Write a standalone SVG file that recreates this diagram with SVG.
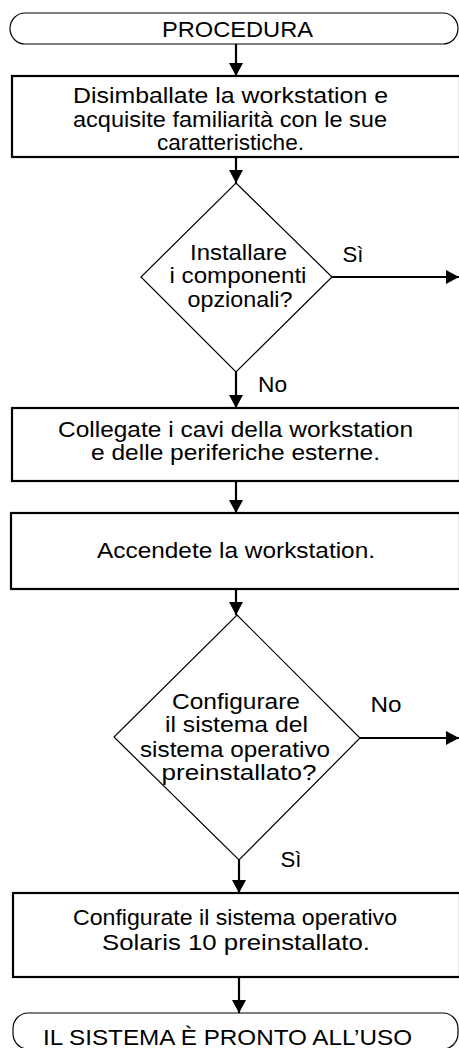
<svg xmlns="http://www.w3.org/2000/svg" width="459" height="1048" viewBox="0 0 459 1048">
<style>
text{font-family:"Liberation Sans",Arial,Helvetica,sans-serif;font-size:22px;fill:#000;text-anchor:middle}
.term{fill:#fff;stroke:#000;stroke-width:1.2}
.box{fill:#fff;stroke:#000;stroke-width:2.2}
.dia{fill:#fff;stroke:#000;stroke-width:1.2}
.conn{fill:none;stroke:#000;stroke-width:2.2}
</style>
<defs>
<marker id="ah" markerUnits="userSpaceOnUse" markerWidth="14" markerHeight="15" refX="13" refY="7" orient="auto">
<path d="M0,0 L13,7 L0,14 z" fill="#000"/>
</marker>
</defs>
<g id="connectors">
<path class="conn" d="M236,44 V76" marker-end="url(#ah)"/>
<path class="conn" d="M236,157 V183" marker-end="url(#ah)"/>
<path class="conn" d="M332,277 H459" marker-end="url(#ah)"/>
<path class="conn" d="M236,372 V408" marker-end="url(#ah)"/>
<path class="conn" d="M236,481 V513" marker-end="url(#ah)"/>
<path class="conn" d="M236,589 V615" marker-end="url(#ah)"/>
<path class="conn" d="M360,738 H459" marker-end="url(#ah)"/>
<path class="conn" d="M239,860 V893" marker-end="url(#ah)"/>
<path class="conn" d="M239,977 V1013" marker-end="url(#ah)"/>
<text x="353" y="262" textLength="21" lengthAdjust="spacingAndGlyphs">Sì</text>
<text x="272.5" y="392" textLength="29" lengthAdjust="spacingAndGlyphs">No</text>
<text x="386" y="712" textLength="31" lengthAdjust="spacingAndGlyphs">No</text>
<text x="291" y="867" textLength="21" lengthAdjust="spacingAndGlyphs">Sì</text>
</g>
<g id="start">
<rect class="term" x="10" y="13" width="448" height="31" rx="15" ry="15.5"/>
<text x="237.5" y="36.5" font-size="20" textLength="151" lengthAdjust="spacingAndGlyphs">PROCEDURA</text>
</g>
<g id="unpack">
<rect class="box" x="12" y="76" width="448" height="81"/>
<text x="230.5" y="103" textLength="315" lengthAdjust="spacingAndGlyphs">Disimballate la workstation e</text>
<text x="230" y="126.5" textLength="314" lengthAdjust="spacingAndGlyphs">acquisite familiarità con le sue</text>
<text x="230.5" y="150" textLength="147" lengthAdjust="spacingAndGlyphs">caratteristiche.</text>
</g>
<g id="decision1">
<polygon class="dia" points="236,183 332,277 236,372 141,277"/>
<text x="238.5" y="260" textLength="97" lengthAdjust="spacingAndGlyphs">Installare</text>
<text x="238" y="283" textLength="137" lengthAdjust="spacingAndGlyphs">i componenti</text>
<text x="240" y="306.5" textLength="105" lengthAdjust="spacingAndGlyphs">opzionali?</text>
</g>
<g id="cables">
<rect class="box" x="12" y="408" width="448" height="73"/>
<text x="235.5" y="437" textLength="355" lengthAdjust="spacingAndGlyphs">Collegate i cavi della workstation</text>
<text x="235.5" y="460" textLength="289" lengthAdjust="spacingAndGlyphs">e delle periferiche esterne.</text>
</g>
<g id="power">
<rect class="box" x="11" y="513" width="449" height="76"/>
<text x="236" y="558" textLength="278" lengthAdjust="spacingAndGlyphs">Accendete la workstation.</text>
</g>
<g id="decision2">
<polygon class="dia" points="237,615 360,738 239,860 114,737"/>
<text x="236" y="708.5" textLength="128" lengthAdjust="spacingAndGlyphs">Configurare</text>
<text x="236.5" y="732" textLength="143" lengthAdjust="spacingAndGlyphs">il sistema del</text>
<text x="235" y="756.5" textLength="190" lengthAdjust="spacingAndGlyphs">sistema operativo</text>
<text x="239" y="780" textLength="155" lengthAdjust="spacingAndGlyphs">preinstallato?</text>
</g>
<g id="configure">
<rect class="box" x="13" y="893" width="447" height="84"/>
<text x="235" y="925" textLength="324" lengthAdjust="spacingAndGlyphs">Configurate il sistema operativo</text>
<text x="236" y="950" textLength="268" lengthAdjust="spacingAndGlyphs">Solaris 10 preinstallato.</text>
</g>
<g id="end">
<rect class="term" x="13" y="1013" width="445" height="36" rx="15" ry="15.5"/>
<text x="227.5" y="1045" textLength="369" lengthAdjust="spacingAndGlyphs">IL SISTEMA È PRONTO ALL’USO</text>
</g>
</svg>
